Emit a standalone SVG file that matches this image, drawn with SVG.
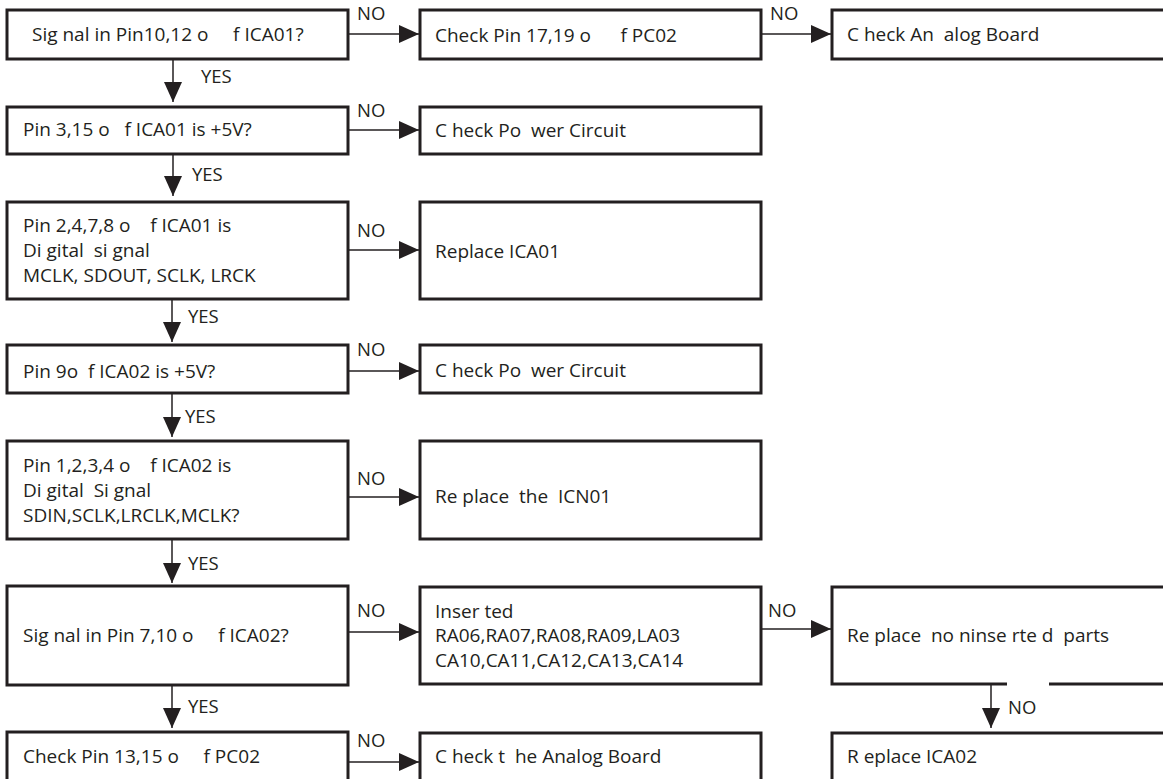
<svg xmlns="http://www.w3.org/2000/svg" width="1163" height="779" viewBox="0 0 1163 779">
<style>
.box{fill:#fff;stroke:#231f20;stroke-width:3}
.t{font-family:"Open Sans","Liberation Sans",sans-serif;font-size:19px;fill:#231f20;white-space:pre}
.lbl{font-family:"Open Sans","Liberation Sans",sans-serif;font-size:18.5px;fill:#231f20}
.c{stroke:#231f20;stroke-width:1.5;fill:none;marker-end:url(#ah)}
</style>
<defs>
<marker id="ah" markerUnits="userSpaceOnUse" markerWidth="20" markerHeight="18" refX="20" refY="9" orient="auto" viewBox="0 0 20 18">
<path d="M0,0 L20,9 L0,18 Z" fill="#231f20"/>
</marker>
</defs>
<rect width="1163" height="779" fill="#fff"/>

<g id="n1"><rect class="box" x="7" y="10" width="341" height="49"/><text class="t" x="32" y="41" xml:space="preserve">Sig nal in Pin10,12 o     f ICA01?</text></g>
<g id="n2"><rect class="box" x="420" y="10" width="341" height="49"/><text class="t" x="435" y="42" xml:space="preserve">Check Pin 17,19 o      f PC02</text></g>
<g id="n3"><rect class="box" x="832" y="10" width="340" height="49"/><text class="t" x="847" y="41" xml:space="preserve">C heck An  alog Board</text></g>

<g id="n4"><rect class="box" x="7" y="107" width="341" height="47"/><text class="t" x="23" y="136" xml:space="preserve">Pin 3,15 o   f ICA01 is +5V?</text></g>
<g id="n5"><rect class="box" x="420" y="107" width="341" height="47"/><text class="t" x="435" y="137" xml:space="preserve">C heck Po  wer Circuit</text></g>

<g id="n6"><rect class="box" x="7" y="202" width="341" height="97"/>
<text class="t" x="23" y="232" xml:space="preserve">Pin 2,4,7,8 o    f ICA01 is</text>
<text class="t" x="23" y="257" xml:space="preserve">Di gital  si gnal</text>
<text class="t" x="23" y="282" xml:space="preserve">MCLK, SDOUT, SCLK, LRCK</text></g>
<g id="n7"><rect class="box" x="420" y="202" width="341" height="97"/><text class="t" x="435" y="258" xml:space="preserve">Replace ICA01</text></g>

<g id="n8"><rect class="box" x="7" y="345" width="341" height="48"/><text class="t" x="23" y="378" xml:space="preserve">Pin 9o  f ICA02 is +5V?</text></g>
<g id="n9"><rect class="box" x="420" y="345" width="341" height="48"/><text class="t" x="435" y="377" xml:space="preserve">C heck Po  wer Circuit</text></g>

<g id="n10"><rect class="box" x="7" y="441" width="341" height="98"/>
<text class="t" x="23" y="472" xml:space="preserve">Pin 1,2,3,4 o    f ICA02 is</text>
<text class="t" x="23" y="497" xml:space="preserve">Di gital  Si gnal</text>
<text class="t" x="23" y="522" xml:space="preserve">SDIN,SCLK,LRCLK,MCLK?</text></g>
<g id="n11"><rect class="box" x="420" y="441" width="341" height="98"/><text class="t" x="435" y="503" xml:space="preserve">Re place  the  ICN01</text></g>

<g id="n12"><rect class="box" x="7" y="586" width="341" height="99"/><text class="t" x="23" y="642" xml:space="preserve">Sig nal in Pin 7,10 o     f ICA02?</text></g>
<g id="n13"><rect class="box" x="420" y="587" width="341" height="97"/>
<text class="t" x="435" y="618" xml:space="preserve">Inser ted</text>
<text class="t" x="435" y="642" xml:space="preserve">RA06,RA07,RA08,RA09,LA03</text>
<text class="t" x="435" y="667" xml:space="preserve">CA10,CA11,CA12,CA13,CA14</text></g>
<g id="n14"><rect class="box" x="832" y="587" width="340" height="97"/><line x1="1007" y1="684" x2="1049" y2="684" stroke="#fff" stroke-width="4"/><text class="t" x="847" y="642" xml:space="preserve">Re place  no ninse rte d  parts</text></g>

<g id="n15"><rect class="box" x="7" y="732" width="341" height="60"/><text class="t" x="23" y="763" xml:space="preserve">Check Pin 13,15 o     f PC02</text></g>
<g id="n16"><rect class="box" x="420" y="733" width="341" height="60"/><text class="t" x="435" y="763" xml:space="preserve">C heck t  he Analog Board</text></g>
<g id="n17"><rect class="box" x="832" y="733" width="340" height="60"/><text class="t" x="847" y="763" xml:space="preserve">R eplace ICA02</text></g>

<g id="connectors">
<line class="c" x1="349" y1="34" x2="419" y2="34"/>
<line class="c" x1="762" y1="34" x2="831" y2="34"/>
<line class="c" x1="349" y1="130" x2="419" y2="130"/>
<line class="c" x1="349" y1="250" x2="419" y2="250"/>
<line class="c" x1="349" y1="371" x2="419" y2="371"/>
<line class="c" x1="349" y1="497" x2="419" y2="497"/>
<line class="c" x1="349" y1="632" x2="419" y2="632"/>
<line class="c" x1="762" y1="629" x2="831" y2="629"/>
<line class="c" x1="349" y1="762" x2="419" y2="762"/>
<line class="c" x1="173" y1="60" x2="173" y2="102"/>
<line class="c" x1="173" y1="155" x2="173" y2="196"/>
<line class="c" x1="172" y1="300" x2="172" y2="342"/>
<line class="c" x1="172" y1="394" x2="172" y2="437"/>
<line class="c" x1="172" y1="540" x2="172" y2="583"/>
<line class="c" x1="172" y1="686" x2="172" y2="728"/>
<line class="c" x1="991" y1="685" x2="991" y2="728"/>
<text class="lbl" x="357" y="20">NO</text>
<text class="lbl" x="770" y="20">NO</text>
<text class="lbl" x="357" y="117">NO</text>
<text class="lbl" x="357" y="237">NO</text>
<text class="lbl" x="357" y="356">NO</text>
<text class="lbl" x="357" y="485">NO</text>
<text class="lbl" x="357" y="617">NO</text>
<text class="lbl" x="768" y="617">NO</text>
<text class="lbl" x="357" y="747">NO</text>
<text class="lbl" x="1008" y="714">NO</text>
<text class="lbl" x="201" y="83">YES</text>
<text class="lbl" x="192" y="181">YES</text>
<text class="lbl" x="188" y="323">YES</text>
<text class="lbl" x="185" y="423">YES</text>
<text class="lbl" x="188" y="570">YES</text>
<text class="lbl" x="188" y="713">YES</text>
</g>
</svg>
